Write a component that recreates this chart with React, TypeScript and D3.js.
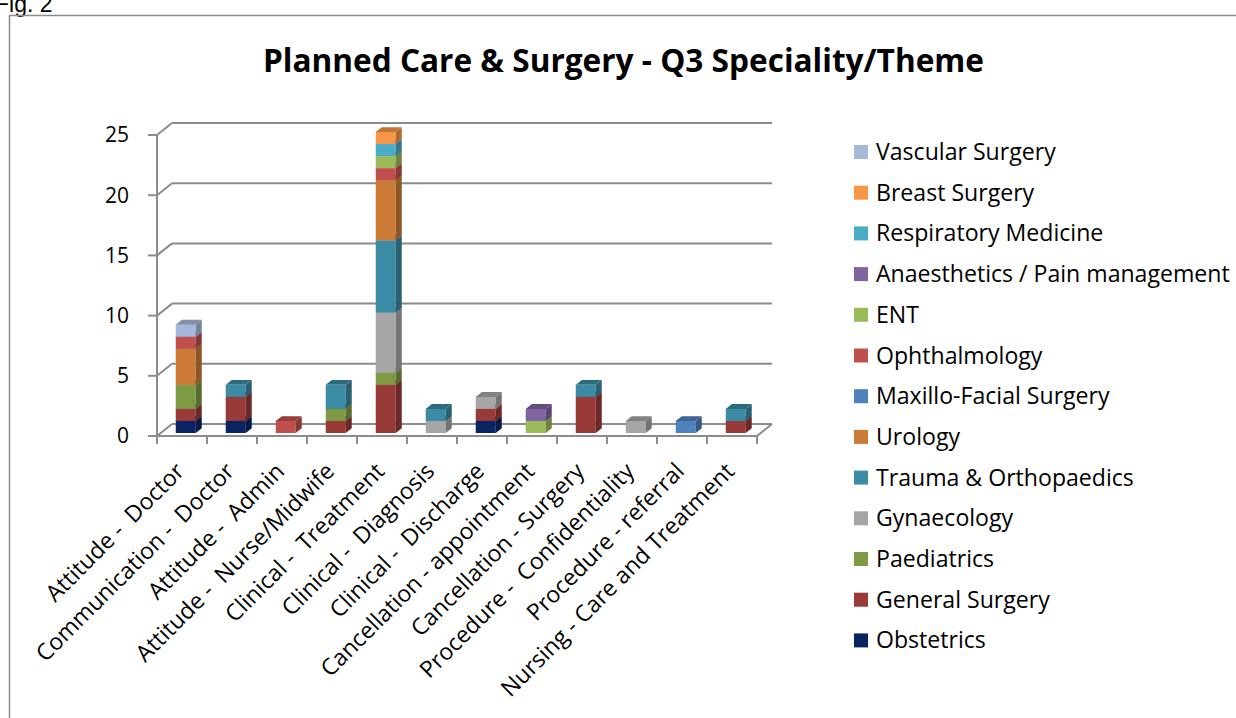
import React from "react";
import * as d3 from "d3";

const categories = [
  "Attitude -  Doctor",
  "Communication -  Doctor",
  "Attitude -  Admin",
  "Attitude -  Nurse/Midwife",
  "Clinical -  Treatment",
  "Clinical -  Diagnosis",
  "Clinical -  Discharge",
  "Cancellation - appointment",
  "Cancellation - Surgery",
  "Procedure -  Confidentiality",
  "Procedure - referral",
  "Nursing - Care and Treatment",
];

// stacking order, bottom to top
const seriesNames = [
  "Obstetrics",
  "General Surgery",
  "Paediatrics",
  "Gynaecology",
  "Trauma & Orthopaedics",
  "Urology",
  "Maxillo-Facial Surgery",
  "Ophthalmology",
  "ENT",
  "Anaesthetics / Pain management",
  "Respiratory Medicine",
  "Breast Surgery",
  "Vascular Surgery",
];

const obstetrics = [1, 1, 0, 0, 0, 0, 1, 0, 0, 0, 0, 0];
const generalSurgery = [1, 2, 0, 1, 4, 0, 1, 0, 3, 0, 0, 1];
const paediatrics = [2, 0, 0, 1, 1, 0, 0, 0, 0, 0, 0, 0];
const gynaecology = [0, 0, 0, 0, 5, 1, 1, 0, 0, 1, 0, 0];
const trauma = [0, 1, 0, 2, 6, 1, 0, 0, 1, 0, 0, 1];
const urology = [3, 0, 0, 0, 5, 0, 0, 0, 0, 0, 0, 0];
const maxillo = [0, 0, 0, 0, 0, 0, 0, 0, 0, 0, 1, 0];
const ophthalmology = [1, 0, 1, 0, 1, 0, 0, 0, 0, 0, 0, 0];
const ent = [0, 0, 0, 0, 1, 0, 0, 1, 0, 0, 0, 0];
const anaesthetics = [0, 0, 0, 0, 0, 0, 0, 1, 0, 0, 0, 0];
const respiratory = [0, 0, 0, 0, 1, 0, 0, 0, 0, 0, 0, 0];
const breast = [0, 0, 0, 0, 1, 0, 0, 0, 0, 0, 0, 0];
const vascular = [1, 0, 0, 0, 0, 0, 0, 0, 0, 0, 0, 0];

const seriesValues = [
  obstetrics, generalSurgery, paediatrics, gynaecology, trauma, urology,
  maxillo, ophthalmology, ent, anaesthetics, respiratory, breast, vascular,
];

const seriesColors = [
  "#0A2463", "#983A38", "#7E9A45", "#A6A6A6", "#3A8BA3", "#CC7B36",
  "#4F81BD", "#C0504D", "#9BBB59", "#8064A2", "#4BACC6", "#F79646", "#A7B9DA",
];

const yTicks = [0, 5, 10, 15, 20, 25];

const FONT = "'Open Sans', sans-serif";

export default function App() {
  const W = 1236, H = 718;
  const x0 = 157, x1 = 757;
  const yBase = 436, yTop = 135;
  const DX = 15, DY = -12; // full depth offset
  const x = d3.scaleBand<number>().domain(d3.range(categories.length)).range([x0, x1]);
  const y = d3.scaleLinear().domain([0, 25]).range([yBase, yTop]);

  const gridColor = "#8C8C8C";
  const grid = yTicks.map((t) => {
    const yy = y(t);
    return (
      <g key={"g" + t}>
        <line x1={x0} y1={yy} x2={x0 + DX} y2={yy + DY} stroke={gridColor} strokeWidth={2} />
        <line x1={x0 + DX} y1={yy + DY} x2={x1 + DX} y2={yy + DY} stroke={gridColor} strokeWidth={2} />
        <line x1={x0 - 9} y1={yy} x2={x0} y2={yy} stroke={gridColor} strokeWidth={2} />
        <text x={129} y={yy} dy="0.35em" textAnchor="end" fontSize={21} fontFamily={FONT} fill="#000">
          {t}
        </text>
      </g>
    );
  });

  // bar depth placement
  const f1 = 0.25, f2 = 0.65;
  const barW = 20;
  const bars: JSX.Element[] = [];
  categories.forEach((_, ci) => {
    let acc = 0;
    const left = (x(ci) as number) + x.bandwidth() / 2 - barW / 2 + DX * f1;
    const ox = DX * (f2 - f1), oy = DY * (f2 - f1);
    seriesValues.forEach((vals, si) => {
      const v = vals[ci];
      if (!v) return;
      const yb = y(acc) + DY * f1;
      const yt = y(acc + v) + DY * f1;
      acc += v;
      const c = seriesColors[si];
      const side = d3.rgb(c).darker(1.0).formatHex();
      const top = d3.rgb(c).darker(0.7).formatHex();
      bars.push(
        <g key={`b${ci}-${si}`}>
          <rect x={left} y={yt} width={barW} height={yb - yt} fill={c} />
          <polygon
            points={`${left + barW},${yb} ${left + barW + ox},${yb + oy} ${left + barW + ox},${yt + oy} ${left + barW},${yt}`}
            fill={side}
          />
          <polygon
            points={`${left},${yt} ${left + ox},${yt + oy} ${left + barW + ox},${yt + oy} ${left + barW},${yt}`}
            fill={top}
          />
        </g>
      );
    });
  });

  const catTicks = d3.range(categories.length + 1).map((i) => {
    const xx = x0 + i * x.bandwidth();
    return <line key={"t" + i} x1={xx} y1={yBase} x2={xx} y2={yBase + 8} stroke={gridColor} strokeWidth={2} />;
  });

  const catLabels = categories.map((c, i) => {
    const cx = (x(i) as number) + x.bandwidth() / 2 - 2;
    const cy = 467;
    return (
      <text
        key={"c" + i}
        x={cx}
        y={cy}
        dy="0.35em"
        textAnchor="end"
        fontSize={23}
        fontFamily={FONT}
        fill="#000"
        transform={`rotate(-45 ${cx} ${cy})`}
        style={{ whiteSpace: "pre" }}
      >
        {c}
      </text>
    );
  });

  const legendOrder = d3.range(seriesNames.length).reverse();
  const legend = legendOrder.map((si, k) => {
    const cy = 152 + k * 40.7;
    return (
      <g key={"l" + si}>
        <rect x={854} y={cy - 7} width={14} height={14} fill={seriesColors[si]} />
        <text x={876} y={cy} dy="0.35em" fontSize={23.1} fontFamily={FONT} fill="#000">
          {seriesNames[si]}
        </text>
      </g>
    );
  });

  return (
    <svg width={W} height={H} style={{ position: "absolute", left: 0, top: 0, background: "#fff" }}>
      <rect x={0} y={0} width={W} height={H} fill="#fff" />
      <text x={-5} y={12} fontSize={23} fontFamily="'Liberation Sans', Arial, sans-serif" fill="#000">
        Fig. 2
      </text>
      <rect x={9.5} y={15.5} width={W + 10} height={H + 10} fill="none" stroke="#8C8C8C" strokeWidth={1.5} />
      <text x={623.5} y={72} textAnchor="middle" fontSize={31.6} fontWeight="bold" fontFamily={FONT} fill="#000">
        Planned Care &amp; Surgery - Q3 Speciality/Theme
      </text>
      {grid}
      <line x1={x0} y1={yBase + 1} x2={x0} y2={yTop} stroke={gridColor} strokeWidth={2} />
      <line x1={x0} y1={yBase} x2={x1} y2={yBase} stroke={gridColor} strokeWidth={2} />
      <line x1={x1} y1={yBase} x2={x1 + DX} y2={yBase + DY} stroke={gridColor} strokeWidth={2} />
      {catTicks}
      {bars}
      {catLabels}
      {legend}
    </svg>
  );
}
